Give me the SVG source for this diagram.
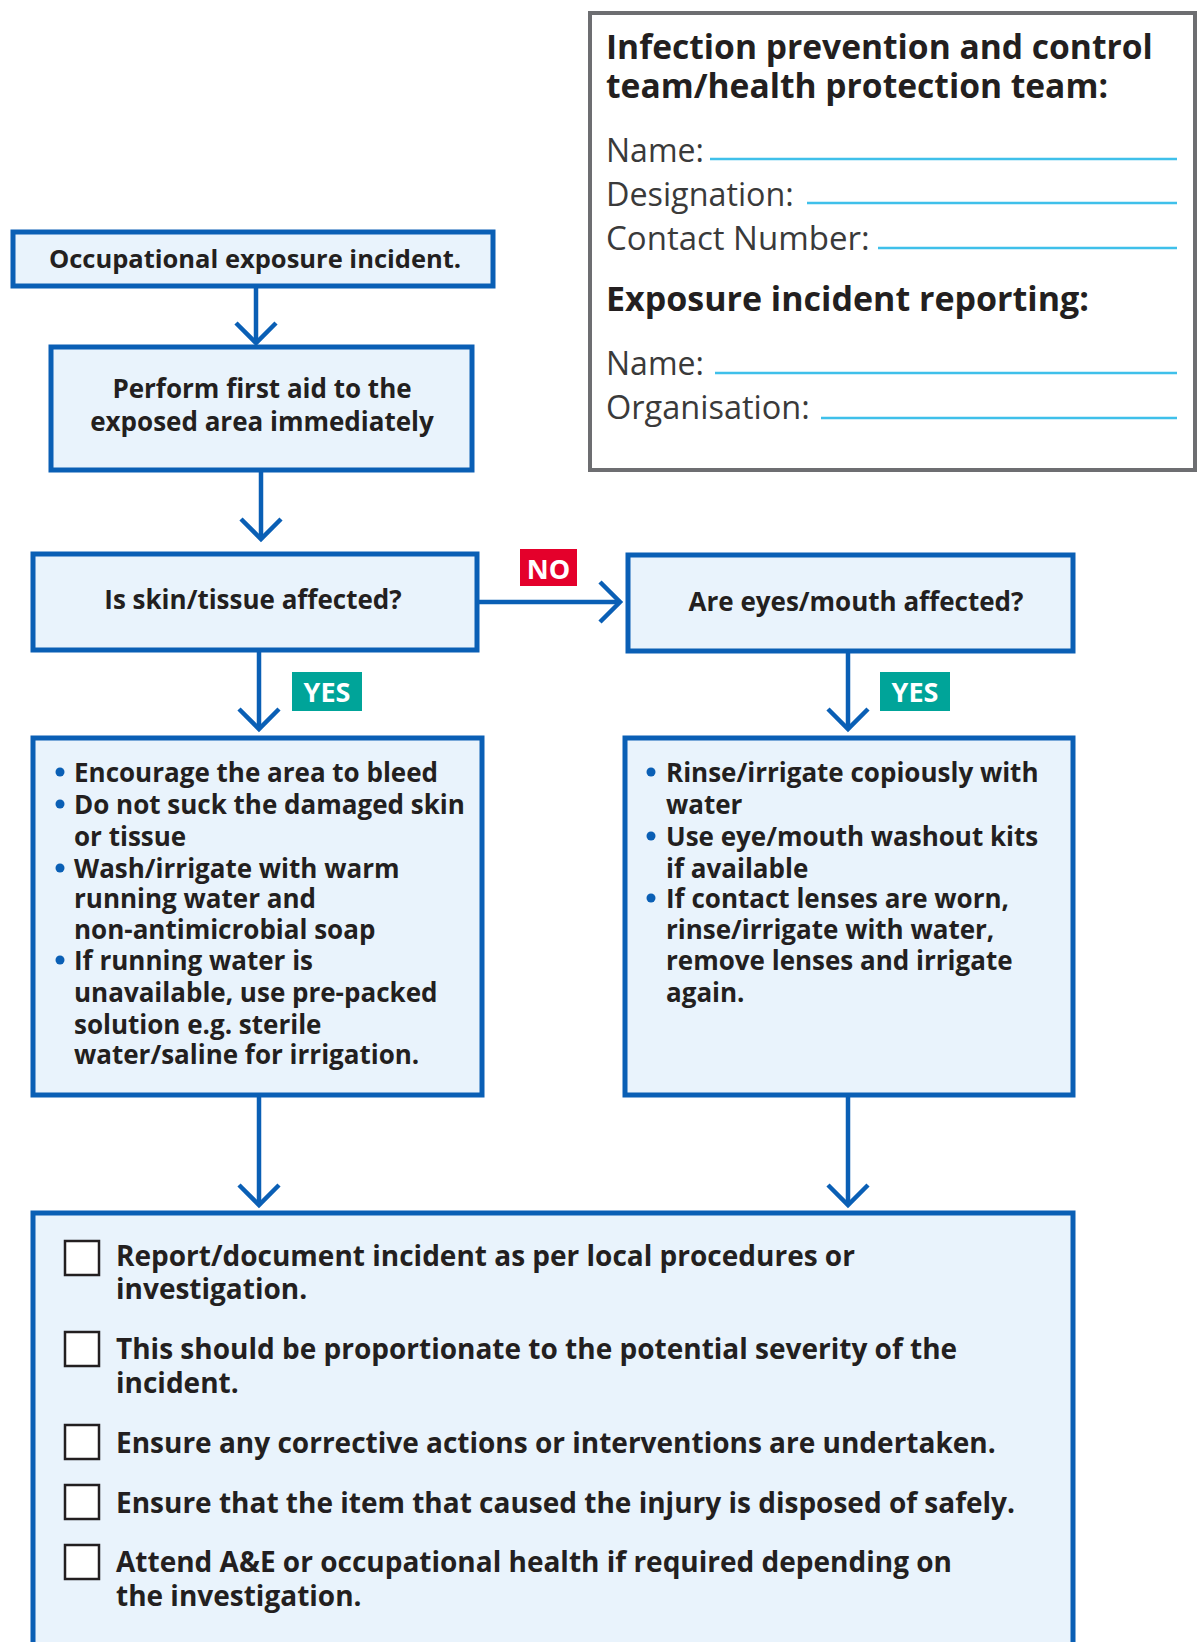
<svg xmlns="http://www.w3.org/2000/svg" width="1197" height="1642" viewBox="0 0 1197 1642">
<style>
.box{fill:#e9f3fc;stroke:#0a5fb5;stroke-width:5}
.t{font-family:"Open Sans","Liberation Sans",sans-serif;font-weight:700;fill:#231f20}
.c{text-anchor:middle}
.lt{font-family:"Open Sans","Liberation Sans",sans-serif;font-weight:400;fill:#3a3a3a}
.fl{stroke:#3fc0ea;stroke-width:2.5}
.conn{stroke:#0a5fb5;stroke-width:4.5;fill:none;marker-end:url(#chev)}
.cb{fill:#fff;stroke:#231f20;stroke-width:2.5}
.bul{fill:#0a5fb5}
.lab{font-family:"Open Sans","Liberation Sans",sans-serif;font-weight:700;fill:#fff;text-anchor:middle}
</style>
<defs>
<marker id="chev" markerUnits="userSpaceOnUse" viewBox="-24 -24 48 48" refX="0" refY="0" markerWidth="48" markerHeight="48" orient="auto" overflow="visible">
<path d="M-20,-20 L0,0 L-20,20" fill="none" stroke="#0a5fb5" stroke-width="4.5"/>
</marker>
</defs>
<rect width="1197" height="1642" fill="#fff"/>

<g id="info">
<rect x="590" y="13" width="605" height="457" fill="#fff" stroke="#6d6e71" stroke-width="4"/>
<text class="t" x="606" y="59" font-size="33.6">Infection prevention and control</text>
<text class="t" x="606" y="98" font-size="33.6">team/health protection team:</text>
<text class="lt" x="606" y="162" font-size="32">Name:</text>
<line class="fl" x1="710" y1="159" x2="1177" y2="159"/>
<text class="lt" x="606" y="206" font-size="32.3">Designation:</text>
<line class="fl" x1="807" y1="203" x2="1177" y2="203"/>
<text class="lt" x="606" y="250" font-size="33">Contact Number:</text>
<line class="fl" x1="878" y1="248" x2="1177" y2="248"/>
<text class="t" x="606" y="311" font-size="34">Exposure incident reporting:</text>
<text class="lt" x="606" y="375" font-size="32">Name:</text>
<line class="fl" x1="715" y1="373" x2="1177" y2="373"/>
<text class="lt" x="606" y="419" font-size="32.5">Organisation:</text>
<line class="fl" x1="821" y1="418" x2="1177" y2="418"/>
</g>

<g id="connectors">
<line class="conn" x1="256" y1="287" x2="256" y2="343"/>
<line class="conn" x1="261" y1="471" x2="261" y2="539"/>
<line class="conn" x1="478" y1="602" x2="620" y2="602"/>
<line class="conn" x1="259" y1="651" x2="259" y2="729"/>
<line class="conn" x1="848" y1="652" x2="848" y2="729"/>
<line class="conn" x1="259" y1="1096" x2="259" y2="1205"/>
<line class="conn" x1="848" y1="1096" x2="848" y2="1205"/>
</g>

<g id="n1">
<rect class="box" x="13" y="232" width="480" height="54"/>
<text class="t c" x="255" y="268" font-size="25.5">Occupational exposure incident.</text>
</g>

<g id="n2">
<rect class="box" x="51" y="347" width="421" height="123"/>
<text class="t c" x="262" y="398" font-size="26">Perform first aid to the</text>
<text class="t c" x="262" y="431" font-size="26">exposed area immediately</text>
</g>

<g id="n3">
<rect class="box" x="33" y="554" width="444" height="96"/>
<text class="t c" x="253" y="609" font-size="26">Is skin/tissue affected?</text>
</g>

<g id="lab-no">
<rect x="520" y="549" width="57" height="37" fill="#e4002b"/>
<text class="lab" x="548.5" y="579" font-size="27">NO</text>
</g>

<g id="n4">
<rect class="box" x="628" y="555" width="445" height="96"/>
<text class="t c" x="856" y="611" font-size="26">Are eyes/mouth affected?</text>
</g>

<g id="lab-yes1">
<rect x="292" y="672" width="70" height="39" fill="#00a499"/>
<text class="lab" x="327" y="702" font-size="27">YES</text>
</g>
<g id="lab-yes2">
<rect x="880" y="672" width="70" height="39" fill="#00a499"/>
<text class="lab" x="915" y="702" font-size="27">YES</text>
</g>

<g id="n5">
<rect class="box" x="33" y="738" width="449" height="357"/>
<g class="t" font-size="26">
<circle class="bul" cx="60" cy="772" r="4.5"/>
<text x="74" y="782">Encourage the area to bleed</text>
<circle class="bul" cx="60" cy="804" r="4.5"/>
<text x="74" y="814">Do not suck the damaged skin</text>
<text x="74" y="846">or tissue</text>
<circle class="bul" cx="60" cy="868" r="4.5"/>
<text x="74" y="878">Wash/irrigate with warm</text>
<text x="74" y="908">running water and</text>
<text x="74" y="939">non-antimicrobial soap</text>
<circle class="bul" cx="60" cy="960" r="4.5"/>
<text x="74" y="970">If running water is</text>
<text x="74" y="1002">unavailable, use pre-packed</text>
<text x="74" y="1034">solution e.g. sterile</text>
<text x="74" y="1064">water/saline for irrigation.</text>
</g>
</g>

<g id="n6">
<rect class="box" x="625" y="738" width="448" height="357"/>
<g class="t" font-size="26">
<circle class="bul" cx="651" cy="772" r="4.5"/>
<text x="666" y="782">Rinse/irrigate copiously with</text>
<text x="666" y="814">water</text>
<circle class="bul" cx="651" cy="836" r="4.5"/>
<text x="666" y="846">Use eye/mouth washout kits</text>
<text x="666" y="878">if available</text>
<circle class="bul" cx="651" cy="898" r="4.5"/>
<text x="666" y="908">If contact lenses are worn,</text>
<text x="666" y="939">rinse/irrigate with water,</text>
<text x="666" y="970">remove lenses and irrigate</text>
<text x="666" y="1002">again.</text>
</g>
</g>

<g id="n7">
<rect class="box" x="33" y="1213" width="1040" height="460"/>
<rect class="cb" x="65" y="1241" width="34" height="34"/>
<rect class="cb" x="65" y="1332" width="34" height="34"/>
<rect class="cb" x="65" y="1425" width="34" height="34"/>
<rect class="cb" x="65" y="1485" width="34" height="34"/>
<rect class="cb" x="65" y="1545" width="34" height="34"/>
<g class="t" font-size="28">
<text x="116" y="1266">Report/document incident as per local procedures or</text>
<text x="116" y="1299">investigation.</text>
<text x="116" y="1359">This should be proportionate to the potential severity of the</text>
<text x="116" y="1393">incident.</text>
<text x="116" y="1453">Ensure any corrective actions or interventions are undertaken.</text>
<text x="116" y="1513">Ensure that the item that caused the injury is disposed of safely.</text>
<text x="116" y="1572">Attend A&amp;E or occupational health if required depending on</text>
<text x="116" y="1606">the investigation.</text>
</g>
</g>
</svg>
